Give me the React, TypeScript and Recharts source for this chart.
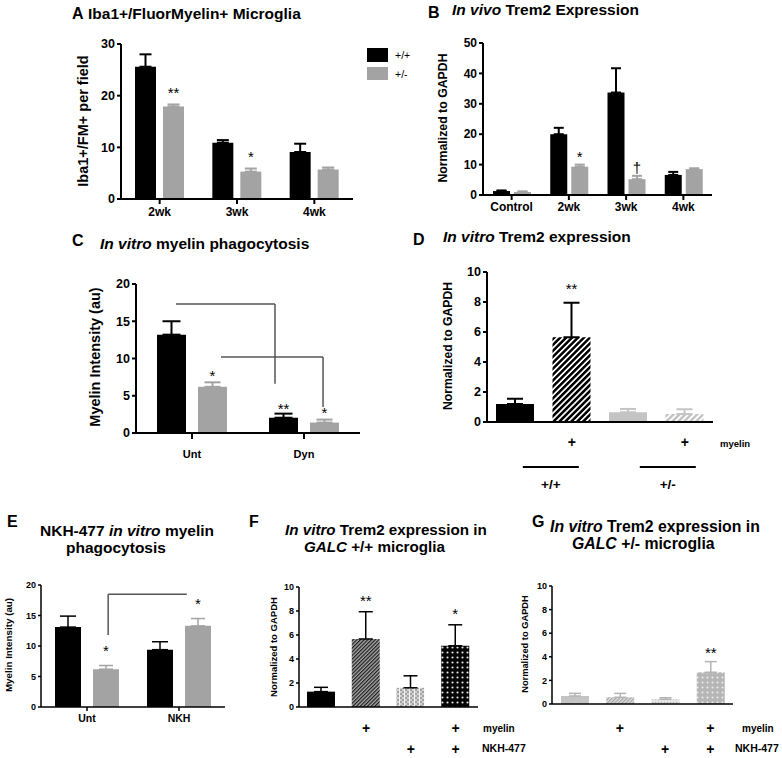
import React from 'react';
import { BarChart, Bar, XAxis, YAxis, ErrorBar, LabelList, ReferenceLine, Cell } from 'recharts';

const FONT = '"Liberation Sans", Arial, Helvetica, sans-serif';
const BLACK = '#000000';
const GRAY = '#a3a3a3';
const LIGHT = '#c4c4c4';

// ---------- Panel A ----------
const aCategories = ['2wk', '3wk', '4wk'];
const aWT = [25.6, 10.9, 9.1];
const aWTErr = [2.4, 0.5, 1.6];
const aHet = [17.9, 5.3, 5.7];
const aHetErr = [0.4, 0.6, 0.4];
const aHetSig = ['**', '*', ''];
const aYTicks = [0, 10, 20, 30];
const legendLabels = ['+/+', '+/-'];

// ---------- Panel B ----------
const bCategories = ['Control', '2wk', '3wk', '4wk'];
const bWT = [1.3, 20.0, 33.7, 6.6];
const bWTErr = [0.2, 2.1, 8.0, 1.0];
const bHet = [1.0, 9.3, 5.2, 8.5];
const bHetErr = [0.2, 0.7, 1.1, 0.3];
const bHetSig = ['', '*', '†', ''];
const bYTicks = [0, 10, 20, 30, 40, 50];

// ---------- Panel C ----------
const cCategories = ['Unt', 'Dyn'];
const cWT = [13.2, 2.05];
const cWTErr = [1.8, 0.55];
const cWTSig = ['', '**'];
const cHet = [6.2, 1.4];
const cHetErr = [0.6, 0.4];
const cHetSig = ['*', '*'];
const cYTicks = [0, 5, 10, 15, 20];
const cBracketTop = [17.3, 10.2];
const cBracketEnd = [6.6, 3.5];

// ---------- Panel D ----------
const dCategories = ['+/+', '+/+ myelin', '+/-', '+/- myelin'];
const dWT = [1.2, 5.65, null, null];
const dWTErr = [0.35, 2.3, null, null];
const dHet = [null, null, 0.65, 0.53];
const dHetErr = [null, null, 0.22, 0.32];
const dSig = ['', '**', '', ''];
const dMyelin = ['', '+', '', '+'];
const dGroups = ['+/+', '+/-'];
const dYTicks = [0, 2, 4, 6, 8, 10];

// ---------- Panel E ----------
const eCategories = ['Unt', 'NKH'];
const eWT = [13.1, 9.4];
const eWTErr = [1.8, 1.3];
const eHet = [6.2, 13.3];
const eHetErr = [0.6, 1.2];
const eHetSig = ['*', '*'];
const eYTicks = [0, 5, 10, 15, 20];
const eBracketTop = 18.5;
const eBracketStart = 11.8;

// ---------- Panels F / G ----------
const fgCategories = ['ctrl', 'myelin', 'NKH-477', 'myelin + NKH-477'];
const fValues = [1.28, 5.67, 1.6, 5.1];
const fErr = [0.36, 2.27, 1.0, 1.75];
const fSig = ['', '**', '', '*'];
const gValues = [0.68, 0.57, 0.4, 2.69];
const gErr = [0.22, 0.33, 0.13, 0.9];
const gSig = ['', '', '', '**'];
const fgMyelin = ['', '+', '', '+'];
const fgNKH = ['', '', '+', '+'];
const fgYTicks = [0, 2, 4, 6, 8, 10];

// ---------- helpers ----------
const AX = { stroke: '#000', strokeWidth: 2 };
const AXs = { stroke: '#000', strokeWidth: 1.5 };
const tickStyle = (fs: number) => ({ fontSize: fs, fontWeight: 'bold', fill: '#000', fontFamily: FONT });

const sigLabel = (values: (number | null)[], errs: (number | null)[], sigs: string[], gap: number, fs: number) => (props: any) => {
  const i = typeof props.index === 'number' ? props.index : Number(props.value);
  const s = sigs[i];
  if (!s) return null;
  const vb = props.viewBox || props;
  const v = values[i] || 0;
  const e = errs[i] || 0;
  const h = Math.abs(vb.height);
  const top = Math.min(vb.y, vb.y + vb.height);
  const ppu = v ? h / v : 0;
  const errTop = top - e * ppu;
  const cx = vb.x + vb.width / 2;
  const baseline = errTop - gap + 0.56 * fs;
  return (
    <text key={`sig-${i}`} x={cx} y={baseline} textAnchor="middle" fontSize={fs} fontFamily={FONT} fill="#000">
      {s}
    </text>
  );
};

const rowTick = (labels: string[], cats: string[], dy: number, fs: number) => (p: any) => {
  const i = typeof p.index === 'number' ? p.index : cats.indexOf(p.payload?.value);
  const s = labels[i];
  if (!s) return <g />;
  return (
    <text x={p.x} y={p.y + dy} textAnchor="middle" dominantBaseline="central" fontSize={fs} fontWeight="bold" fontFamily={FONT} fill="#000">
      {s}
    </text>
  );
};

const groupTick = (p: any) => {
  const i = typeof p.index === 'number' ? p.index : 0;
  return (
    <g>
      <line x1={p.x - 28} x2={p.x + 28} y1={p.y + 13} y2={p.y + 13} stroke="#000" strokeWidth={2} />
      <text x={p.x} y={p.y + 30} textAnchor="middle" dominantBaseline="central" fontSize={13.5} fontWeight="bold" fontFamily={FONT} fill="#000">
        {dGroups[i]}
      </text>
    </g>
  );
};

function VTitle({ cx, cy, fs, text, weight = 'bold' }: { cx: number; cy: number; fs: number; text: string; weight?: string }) {
  return (
    <text x={cx} y={cy} transform={`rotate(-90 ${cx} ${cy})`} textAnchor="middle" dominantBaseline="central" fontSize={fs} fontWeight={weight} fill="#000">
      {text}
    </text>
  );
}

function Overlay() {
  return (
    <svg width={782} height={758} style={{ position: 'absolute', left: 0, top: 0 }} fontFamily={FONT}>
      {/* A */}
      <text x={72} y={19} fontSize={16} fontWeight="bold">A</text>
      <text x={88} y={19} fontSize={15.5} fontWeight="bold">Iba1+/FluorMyelin+ Microglia</text>
      <VTitle cx={83} cy={121} fs={14.5} text="Iba1+/FM+ per field" />
      <rect x={367} y={48} width={21} height={14} fill={BLACK} />
      <rect x={367} y={67} width={21} height={13} fill={GRAY} />
      <text x={395} y={55} fontSize={10.5} dominantBaseline="central">{legendLabels[0]}</text>
      <text x={395} y={73.5} fontSize={10.5} dominantBaseline="central">{legendLabels[1]}</text>
      {/* B */}
      <text x={428} y={18} fontSize={16} fontWeight="bold">B</text>
      <text x={452} y={15} fontSize={15.5} fontWeight="bold">
        <tspan fontStyle="italic">In vivo</tspan> Trem2 Expression
      </text>
      <VTitle cx={443} cy={118} fs={12.3} text="Normalized to GAPDH" />
      {/* C */}
      <text x={72} y={246} fontSize={16} fontWeight="bold">C</text>
      <text x={100} y={249} fontSize={15.5} fontWeight="bold">
        <tspan fontStyle="italic">In vitro</tspan> myelin phagocytosis
      </text>
      <VTitle cx={95} cy={357} fs={14.5} text="Myelin Intensity (au)" />
      {/* D */}
      <text x={413} y={245} fontSize={16} fontWeight="bold">D</text>
      <text x={443} y={241.5} fontSize={15.5} fontWeight="bold">
        <tspan fontStyle="italic">In vitro</tspan> Trem2 expression
      </text>
      <VTitle cx={448} cy={346} fs={12.2} text="Normalized to GAPDH" />
      {/* E */}
      <text x={7} y={527} fontSize={16} fontWeight="bold">E</text>
      <text x={40} y={536} fontSize={15.5} fontWeight="bold">
        NKH-477 <tspan fontStyle="italic">in vitro</tspan> myelin
      </text>
      <text x={66} y={552.5} fontSize={15.5} fontWeight="bold">phagocytosis</text>
      <VTitle cx={8} cy={645} fs={9.8} text="Myelin Intensity (au)" />
      {/* F */}
      <text x={249} y={527} fontSize={16} fontWeight="bold">F</text>
      <text x={285} y={535} fontSize={15.2} fontWeight="bold">
        <tspan fontStyle="italic">In vitro</tspan> Trem2 expression in
      </text>
      <text x={304} y={552} fontSize={15.2} fontWeight="bold">
        <tspan fontStyle="italic">GALC</tspan> +/+ microglia
      </text>
      <VTitle cx={273} cy={647} fs={9.5} text="Normalized to GAPDH" />
      {/* G */}
      <text x={532} y={527} fontSize={16} fontWeight="bold">G</text>
      <text x={550} y={531.5} fontSize={15.8} fontWeight="bold">
        <tspan fontStyle="italic">In vitro</tspan> Trem2 expression in
      </text>
      <text x={572} y={549} fontSize={15.8} fontWeight="bold">
        <tspan fontStyle="italic">GALC</tspan> +/- microglia
      </text>
      <VTitle cx={525} cy={644} fs={9.3} text="Normalized to GAPDH" />
    </svg>
  );
}

function PanelA() {
  const data = aCategories.map((cat, i) => ({ cat, idx: i, wt: aWT[i], het: aHet[i], wtErr: [0, aWTErr[i]], hetErr: [0, aHetErr[i]] }));
  return (
    <div style={{ position: 'absolute', left: 60, top: 20 }}>
      <BarChart width={300} height={215} data={data} margin={{ top: 24, right: 7, bottom: 14, left: 21 }} barSize={21} barGap={7}>
        <XAxis dataKey="cat" height={22} interval={0} axisLine={AX} tickLine={AX} tickSize={5} tickMargin={3} tick={tickStyle(12)} />
        <YAxis type="number" domain={[0, 30]} ticks={aYTicks} interval={0} width={40} axisLine={AX} tickLine={AX} tickSize={4} tickMargin={2} tick={tickStyle(12.5)} allowDataOverflow />
        <Bar dataKey="wt" fill={BLACK} isAnimationActive={false}>
          <ErrorBar dataKey="wtErr" width={6} stroke={BLACK} strokeWidth={2} direction="y" isAnimationActive={false} />
        </Bar>
        <Bar dataKey="het" fill={GRAY} isAnimationActive={false}>
          <ErrorBar dataKey="hetErr" width={6} stroke={GRAY} strokeWidth={2} direction="y" isAnimationActive={false} />
          <LabelList dataKey="idx" content={sigLabel(aHet, aHetErr, aHetSig, 15, 15)} />
        </Bar>
      </BarChart>
    </div>
  );
}

function PanelB() {
  const data = bCategories.map((cat, i) => ({ cat, idx: i, wt: bWT[i], het: bHet[i], wtErr: [0, bWTErr[i]], hetErr: [0, bHetErr[i]] }));
  return (
    <div style={{ position: 'absolute', left: 450, top: 20 }}>
      <BarChart width={280} height={212} data={data} margin={{ top: 23, right: 18, bottom: 15, left: 3 }} barSize={17} barGap={4}>
        <XAxis dataKey="cat" height={22} interval={0} axisLine={AX} tickLine={AX} tickSize={5} tickMargin={2} tick={tickStyle(12)} />
        <YAxis type="number" domain={[0, 50]} ticks={bYTicks} interval={0} width={30} axisLine={AX} tickLine={AX} tickSize={4} tickMargin={2} tick={tickStyle(12)} allowDataOverflow />
        <Bar dataKey="wt" fill={BLACK} isAnimationActive={false}>
          <ErrorBar dataKey="wtErr" width={5} stroke={BLACK} strokeWidth={2} direction="y" isAnimationActive={false} />
        </Bar>
        <Bar dataKey="het" fill={GRAY} isAnimationActive={false}>
          <ErrorBar dataKey="hetErr" width={5} stroke={GRAY} strokeWidth={2} direction="y" isAnimationActive={false} />
          <LabelList dataKey="idx" content={sigLabel(bHet, bHetErr, bHetSig, 11.5, 15)} />
        </Bar>
      </BarChart>
    </div>
  );
}

function PanelC() {
  const data = cCategories.map((cat, i) => ({ cat, idx: i, pos: i + 0.5, wt: cWT[i], het: cHet[i], wtErr: [0, cWTErr[i]], hetErr: [0, cHetErr[i]] }));
  const line = { stroke: '#555', strokeWidth: 1.5, ifOverflow: 'visible' as const };
  return (
    <div style={{ position: 'absolute', left: 100, top: 262 }}>
      <BarChart width={280} height={210} data={data} margin={{ top: 22, right: 20, bottom: 11, left: 6 }} barSize={29} barGap={12}>
        <XAxis dataKey="cat" height={28} interval={0} axisLine={AX} tickLine={AX} tickSize={6} tickMargin={11} tick={tickStyle(11)} />
        <XAxis xAxisId="n" dataKey="pos" type="number" domain={[0, 2]} hide allowDataOverflow />
        <YAxis type="number" domain={[0, 20]} ticks={cYTicks} interval={0} width={30} axisLine={AX} tickLine={AX} tickSize={4} tickMargin={2} tick={tickStyle(12.5)} allowDataOverflow />
        <Bar dataKey="wt" fill={BLACK} isAnimationActive={false}>
          <ErrorBar dataKey="wtErr" width={9} stroke={BLACK} strokeWidth={2} direction="y" isAnimationActive={false} />
          <LabelList dataKey="idx" content={sigLabel(cWT, cWTErr, cWTSig, 8, 15)} />
        </Bar>
        <Bar dataKey="het" fill={GRAY} isAnimationActive={false}>
          <ErrorBar dataKey="hetErr" width={8} stroke={GRAY} strokeWidth={2} direction="y" isAnimationActive={false} />
          <LabelList dataKey="idx" content={sigLabel(cHet, cHetErr, cHetSig, 10, 15)} />
        </Bar>
        <ReferenceLine xAxisId="n" segment={[{ x: 0.357, y: cBracketTop[0] }, { x: 1.241, y: cBracketTop[0] }]} {...line} />
        <ReferenceLine xAxisId="n" segment={[{ x: 1.241, y: cBracketTop[0] }, { x: 1.241, y: cBracketEnd[0] }]} {...line} />
        <ReferenceLine xAxisId="n" segment={[{ x: 0.759, y: cBracketTop[1] }, { x: 1.67, y: cBracketTop[1] }]} {...line} />
        <ReferenceLine xAxisId="n" segment={[{ x: 1.67, y: cBracketTop[1] }, { x: 1.67, y: cBracketEnd[1] }]} {...line} />
      </BarChart>
    </div>
  );
}

function PanelD() {
  const data = dCategories.map((cat, i) => ({ cat, idx: i, pos: i + 0.5, wt: dWT[i], het: dHet[i], wtErr: dWTErr[i] == null ? null : [0, dWTErr[i]], hetErr: dHetErr[i] == null ? null : [0, dHetErr[i]] }));
  const wtFills = [BLACK, 'url(#dStripeK)', BLACK, BLACK];
  const hetFills = [LIGHT, LIGHT, LIGHT, 'url(#dStripeG)'];
  return (
    <div style={{ position: 'absolute', left: 450, top: 250 }}>
      <BarChart width={320} height={250} data={data} margin={{ top: 22, right: 57, bottom: 6, left: 7 }} barSize={38}>
        <defs>
          <pattern id="dStripeK" patternUnits="userSpaceOnUse" width="4.2" height="4.2" patternTransform="rotate(45)">
            <rect width="4.2" height="4.2" fill="#fff" />
            <rect width="2.5" height="4.2" fill="#000" />
          </pattern>
          <pattern id="dStripeG" patternUnits="userSpaceOnUse" width="4.2" height="4.2" patternTransform="rotate(45)">
            <rect width="4.2" height="4.2" fill="#fff" />
            <rect width="2.5" height="4.2" fill={LIGHT} />
          </pattern>
        </defs>
        <XAxis dataKey="cat" height={12} interval={0} axisLine={AX} tickLine={AX} tickSize={6} tick={false} />
        <XAxis xAxisId="r2" dataKey="pos" type="number" domain={[0, 4]} ticks={[1.13, 3.2]} interval={0} height={40} axisLine={false} tickLine={false} tickSize={0} tickMargin={0} tick={groupTick} allowDataOverflow />
        <XAxis xAxisId="r1" dataKey="cat" height={20} interval={0} axisLine={false} tickLine={false} tickSize={0} tickMargin={0}
          tick={rowTick(dMyelin, dCategories, 8, 14)}
          label={{ value: 'myelin', position: 'right', offset: 7, fontSize: 9.5, fontWeight: 'bold', fill: '#000', fontFamily: FONT }} />
        <YAxis type="number" domain={[0, 10]} ticks={dYTicks} interval={0} width={30} axisLine={AX} tickLine={AX} tickSize={4} tickMargin={2} tick={tickStyle(12.5)} allowDataOverflow />
        <Bar dataKey="wt" stackId="s" isAnimationActive={false}>
          {wtFills.map((f, i) => <Cell key={i} fill={f} />)}
          <ErrorBar dataKey="wtErr" width={8} stroke={BLACK} strokeWidth={2} direction="y" isAnimationActive={false} />
          <LabelList dataKey="idx" content={sigLabel(dWT, dWTErr, dSig, 17, 15)} />
        </Bar>
        <Bar dataKey="het" stackId="s" isAnimationActive={false}>
          {hetFills.map((f, i) => <Cell key={i} fill={f} />)}
          <ErrorBar dataKey="hetErr" width={8} stroke={LIGHT} strokeWidth={2} direction="y" isAnimationActive={false} />
        </Bar>
      </BarChart>
    </div>
  );
}

function PanelE() {
  const data = eCategories.map((cat, i) => ({ cat, idx: i, pos: i + 0.5, wt: eWT[i], het: eHet[i], wtErr: [0, eWTErr[i]], hetErr: [0, eHetErr[i]] }));
  const line = { stroke: '#555', strokeWidth: 1.5, ifOverflow: 'visible' as const };
  return (
    <div style={{ position: 'absolute', left: 0, top: 570 }}>
      <BarChart width={240} height={160} data={data} margin={{ top: 15, right: 15, bottom: 1, left: 17 }} barSize={26} barGap={12}>
        <XAxis dataKey="cat" height={22} interval={0} axisLine={AXs} tickLine={AXs} tickSize={4} tickMargin={4} tick={tickStyle(10.5)} />
        <XAxis xAxisId="n" dataKey="pos" type="number" domain={[0, 2]} hide allowDataOverflow />
        <YAxis type="number" domain={[0, 20]} ticks={eYTicks} interval={0} width={24} axisLine={AXs} tickLine={AXs} tickSize={3} tickMargin={2} tick={tickStyle(9)} allowDataOverflow />
        <Bar dataKey="wt" fill={BLACK} isAnimationActive={false}>
          <ErrorBar dataKey="wtErr" width={8} stroke={BLACK} strokeWidth={1.5} direction="y" isAnimationActive={false} />
        </Bar>
        <Bar dataKey="het" fill={GRAY} isAnimationActive={false}>
          <ErrorBar dataKey="hetErr" width={7} stroke={GRAY} strokeWidth={1.5} direction="y" isAnimationActive={false} />
          <LabelList dataKey="idx" content={sigLabel(eHet, eHetErr, eHetSig, 18, 15)} />
        </Bar>
        <ReferenceLine xAxisId="n" segment={[{ x: 0.73, y: eBracketStart }, { x: 0.73, y: eBracketTop }]} {...line} />
        <ReferenceLine xAxisId="n" segment={[{ x: 0.73, y: eBracketTop }, { x: 1.585, y: eBracketTop }]} {...line} />
      </BarChart>
    </div>
  );
}

function PanelF() {
  const data = fgCategories.map((cat, i) => ({ cat, idx: i, v: fValues[i], err: [0, fErr[i]] }));
  const fills = [BLACK, 'url(#fHatch)', 'url(#fChk)', 'url(#fDots)'];
  return (
    <div style={{ position: 'absolute', left: 270, top: 575 }}>
      <BarChart width={270} height={183} data={data} margin={{ top: 12, right: 62, bottom: 1, left: 7 }} barSize={28}>
        <defs>
          <pattern id="fHatch" patternUnits="userSpaceOnUse" width="2.6" height="2.6" patternTransform="rotate(45)">
            <rect width="2.6" height="2.6" fill="#a8a8a8" />
            <rect width="1.2" height="2.6" fill="#1a1a1a" />
          </pattern>
          <pattern id="fChk" patternUnits="userSpaceOnUse" width="5" height="4">
            <rect width="5" height="4" fill="#a2a2a2" />
            <rect x="0" y="0" width="2" height="2" fill="#d2d2d2" />
            <rect x="2" y="2" width="2" height="2" fill="#d2d2d2" />
            <rect x="4" y="0" width="1" height="4" fill="#f4f4f4" />
          </pattern>
          <pattern id="fDots" patternUnits="userSpaceOnUse" width="5" height="5">
            <rect width="5" height="5" fill="#050505" />
            <circle cx="2.5" cy="2.5" r="1.05" fill="#e8e8e8" />
          </pattern>
        </defs>
        <XAxis dataKey="cat" height={10} interval={0} axisLine={AXs} tickLine={AXs} tickSize={5} tick={false} />
        <XAxis xAxisId="r2" dataKey="cat" height={18} interval={0} axisLine={false} tickLine={false} tickSize={0} tickMargin={0}
          tick={rowTick(fgNKH, fgCategories, 10, 14)}
          label={{ value: 'NKH-477', position: 'right', offset: 4, fontSize: 10.5, fontWeight: 'bold', fill: '#000', fontFamily: FONT }} />
        <XAxis xAxisId="r1" dataKey="cat" height={22} interval={0} axisLine={false} tickLine={false} tickSize={0} tickMargin={0}
          tick={rowTick(fgMyelin, fgCategories, 11, 14)}
          label={{ value: 'myelin', position: 'right', offset: 5, fontSize: 10, fontWeight: 'bold', fill: '#000', fontFamily: FONT }} />
        <YAxis type="number" domain={[0, 10]} ticks={fgYTicks} interval={0} width={22} axisLine={AXs} tickLine={AXs} tickSize={3} tickMargin={2} tick={tickStyle(9)} allowDataOverflow />
        <Bar dataKey="v" isAnimationActive={false}>
          {fills.map((f, i) => <Cell key={i} fill={f} />)}
          <ErrorBar dataKey="err" width={7} stroke={BLACK} strokeWidth={1.5} direction="y" isAnimationActive={false} />
          <LabelList dataKey="idx" content={sigLabel(fValues, fErr, fSig, 14, 15)} />
        </Bar>
      </BarChart>
    </div>
  );
}

function PanelG() {
  const data = fgCategories.map((cat, i) => ({ cat, idx: i, v: gValues[i], err: [0, gErr[i]] }));
  const fills = ['#c4c4c4', 'url(#gHatch)', 'url(#gDotsL)', 'url(#gDots)'];
  return (
    <div style={{ position: 'absolute', left: 525, top: 575 }}>
      <BarChart width={257} height={183} data={data} margin={{ top: 11, right: 49, bottom: 1, left: 5 }} barSize={28}>
        <defs>
          <pattern id="gHatch" patternUnits="userSpaceOnUse" width="2.6" height="2.6" patternTransform="rotate(45)">
            <rect width="2.6" height="2.6" fill="#dcdcdc" />
            <rect width="1.2" height="2.6" fill="#a6a6a6" />
          </pattern>
          <pattern id="gDotsL" patternUnits="userSpaceOnUse" width="3" height="3">
            <rect width="3" height="3" fill="#e6e6e6" />
            <circle cx="1.5" cy="1.5" r="0.8" fill="#b8b8b8" />
          </pattern>
          <pattern id="gDots" patternUnits="userSpaceOnUse" width="5" height="5">
            <rect width="5" height="5" fill="#b6b6b6" />
            <circle cx="2.5" cy="2.5" r="1" fill="#eeeeee" />
          </pattern>
        </defs>
        <XAxis dataKey="cat" height={13} interval={0} axisLine={AXs} tickLine={AXs} tickSize={5} tick={false} />
        <XAxis xAxisId="r2" dataKey="cat" height={18} interval={0} axisLine={false} tickLine={false} tickSize={0} tickMargin={0}
          tick={rowTick(fgNKH, fgCategories, 10, 14)}
          label={{ value: 'NKH-477', position: 'right', offset: 2, fontSize: 10.5, fontWeight: 'bold', fill: '#000', fontFamily: FONT }} />
        <XAxis xAxisId="r1" dataKey="cat" height={22} interval={0} axisLine={false} tickLine={false} tickSize={0} tickMargin={0}
          tick={rowTick(fgMyelin, fgCategories, 11, 14)}
          label={{ value: 'myelin', position: 'right', offset: 9, fontSize: 10, fontWeight: 'bold', fill: '#000', fontFamily: FONT }} />
        <YAxis type="number" domain={[0, 10]} ticks={fgYTicks} interval={0} width={22} axisLine={AXs} tickLine={AXs} tickSize={3} tickMargin={2} tick={tickStyle(9)} allowDataOverflow />
        <Bar dataKey="v" isAnimationActive={false}>
          {fills.map((f, i) => <Cell key={i} fill={f} />)}
          <ErrorBar dataKey="err" width={6} stroke="#b4b4b4" strokeWidth={1.5} direction="y" isAnimationActive={false} />
          <LabelList dataKey="idx" content={sigLabel(gValues, gErr, gSig, 12, 15)} />
        </Bar>
      </BarChart>
    </div>
  );
}

export default function App() {
  return (
    <div style={{ position: 'absolute', left: 0, top: 0, width: 782, height: 758, background: '#fff', fontFamily: FONT, overflow: 'hidden' }}>
      <Overlay />
      <PanelA />
      <PanelB />
      <PanelC />
      <PanelD />
      <PanelE />
      <PanelF />
      <PanelG />
    </div>
  );
}
